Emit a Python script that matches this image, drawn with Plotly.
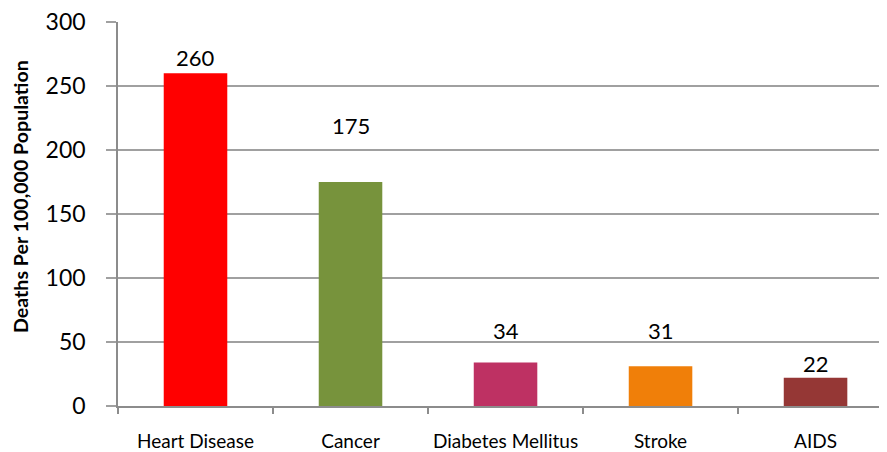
import plotly.graph_objects as go

categories = ["Heart Disease", "Cancer", "Diabetes Mellitus", "Stroke", "AIDS"]
deaths = [260, 175, 34, 31, 22]
labels = ["260", "175", "34", "31", "22"]
colors = ["#FF0000", "#77933C", "#BE3163", "#F07F09", "#953735"]
label_shift_px = [16, 57, 32, 36, 14]

FONT = "Lato"

fig = go.Figure(go.Bar(
    x=categories, y=deaths, marker=dict(color=colors, line=dict(width=0)),
    width=0.41, hoverinfo="skip"))

for c, v, t, s in zip(categories, deaths, labels, label_shift_px):
    fig.add_annotation(x=c, y=v, text=t, showarrow=False, yanchor="middle",
                       yshift=s, font=dict(family=FONT, size=22, color="#000"))

fig.add_annotation(
    xref="paper", yref="paper", x=0, y=0.5, xanchor="center", yanchor="middle",
    xshift=-98, yshift=17, textangle=-90, showarrow=False,
    text="<b>Deaths Per 100,000 Population</b>",
    font=dict(family=FONT, size=19.6, color="#000"))

fig.update_layout(
    width=879, height=444,
    margin=dict(l=110, r=0, t=14, b=46),
    paper_bgcolor="white", plot_bgcolor="white",
    showlegend=False,
    font=dict(family=FONT, color="#000"),
)
fig.update_xaxes(
    type="category", range=[-0.5, 4.461], tickson="boundaries",
    ticks="outside", ticklen=6, tickcolor="#8C8C8C", tickwidth=1.5,
    showline=True, linecolor="#8C8C8C", linewidth=1.5,
    showgrid=False, tickfont=dict(family=FONT, size=19, color="#000"),
    ticklabelstandoff=17, ticklabeloverflow="allow",
)
fig.update_yaxes(
    range=[0, 300], tick0=0, dtick=50,
    ticks="outside", ticklen=10, tickcolor="#A0A0A0", tickwidth=1.5,
    showline=True, linecolor="#8C8C8C", linewidth=1.5,
    showgrid=True, gridcolor="#A0A0A0", gridwidth=1.5,
    zeroline=False, ticklabeloverflow="allow",
    tickfont=dict(family=FONT, size=23, color="#000"),
    ticklabelstandoff=16,
)

fig.write_html("out.html")
